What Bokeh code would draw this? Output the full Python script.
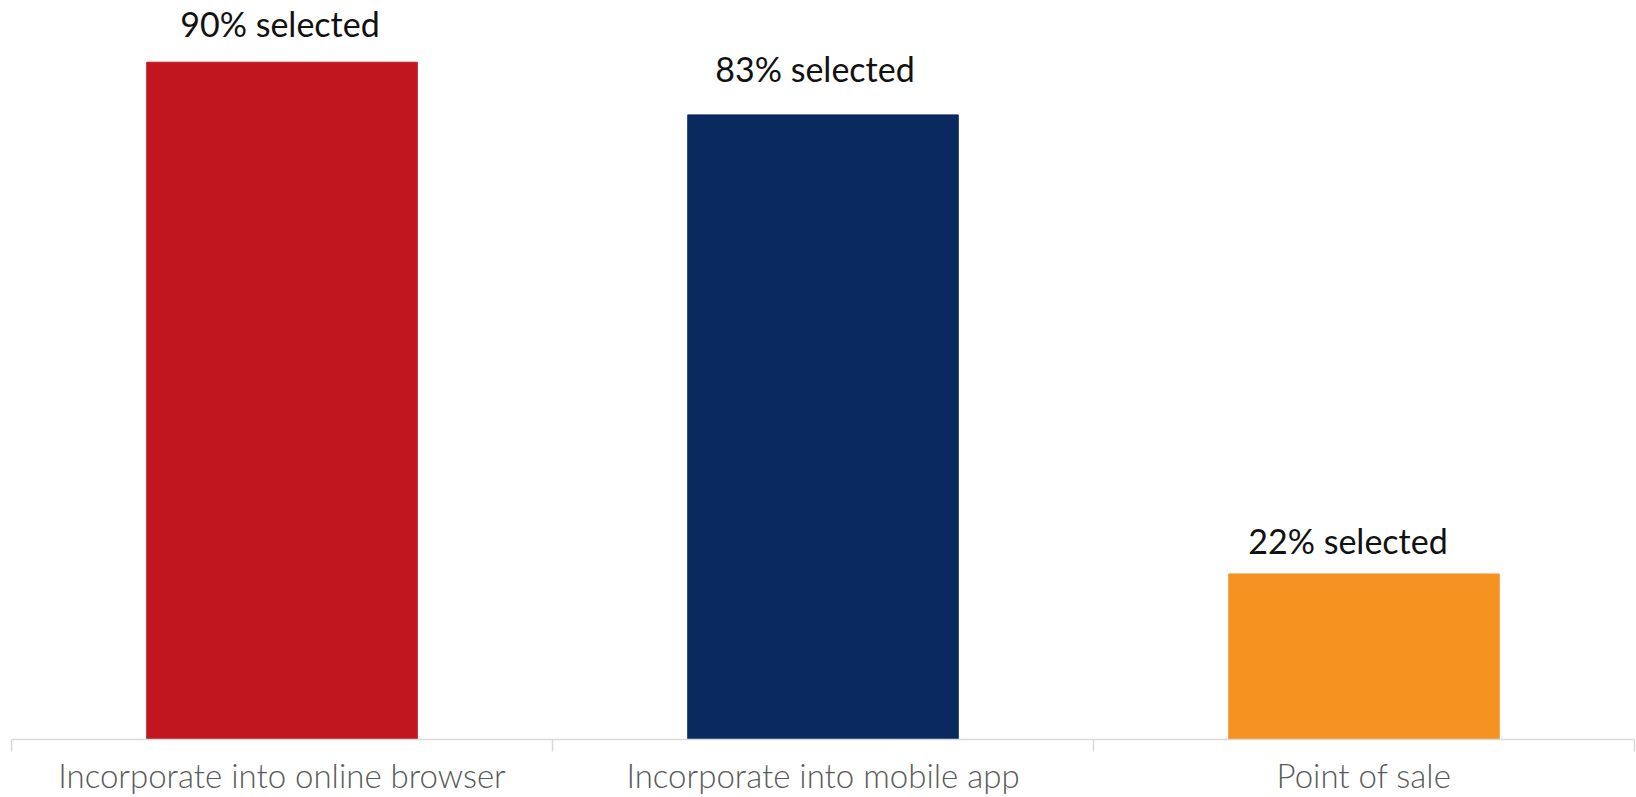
from bokeh.plotting import figure
from bokeh.models import ColumnDataSource, LabelSet, FixedTicker, Range1d
from bokeh.core.properties import value
from bokeh.embed import file_html
from bokeh.resources import INLINE

# ---- data ----
categories = ["Incorporate into online browser", "Incorporate into mobile app", "Point of sale"]
values = [90, 83, 22]
value_labels = ["90% selected", "83% selected", "22% selected"]

# ---- style ----
colors = ["#C1151F", "#0A2A5F", "#F69320"]
label_lift = [25, 33, 20]
label_shift = [-2, -8, -16]

xs = [i + 0.5 for i in range(len(categories))]
src = ColumnDataSource(dict(x=xs, top=values, color=colors, text=value_labels,
                            lift=label_lift, shift=label_shift))

p = figure(width=1636, height=797, output_backend="svg", toolbar_location=None,
           x_range=Range1d(0, len(categories)), y_range=Range1d(0, 98.2),
           min_border_left=11, min_border_right=2, min_border_top=0, min_border_bottom=30)

p.vbar(x="x", top="top", width=0.5, color="color", source=src)

labels = LabelSet(x="x", y="top", text="text", source=src, y_offset="lift", x_offset="shift",
                  text_align="center", text_baseline="alphabetic",
                  text_font=value("Lato"), text_font_size="34px", text_color="#111111")
p.add_layout(labels)

p.yaxis.visible = False
p.grid.visible = False
p.outline_line_color = None

ax = p.xaxis[0]
ax.ticker = FixedTicker(ticks=xs, minor_ticks=list(range(len(categories) + 1)))
ax.major_label_overrides = {x: c for x, c in zip(xs, categories)}
ax.major_tick_out = 0
ax.major_tick_in = 0
ax.minor_tick_out = 12
ax.minor_tick_in = 0
ax.minor_tick_line_color = "#D9D9D9"
ax.minor_tick_line_width = 1.5
ax.axis_line_color = "#D9D9D9"
ax.axis_line_width = 1.5
ax.major_label_text_font = "Lato Light"
ax.major_label_text_font_size = "33px"
ax.major_label_text_color = "#595959"
ax.major_label_standoff = 3

open("out.html", "w").write(file_html(p, INLINE))
